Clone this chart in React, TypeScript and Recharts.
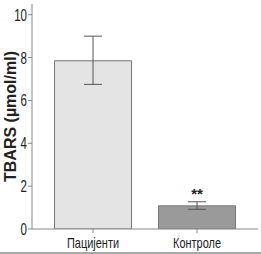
import React from "react";
import {
  BarChart,
  Bar,
  XAxis,
  YAxis,
  ErrorBar,
  LabelList,
  Cell,
} from "recharts";

document.body.style.margin = "0";

const groups = ["Пацијенти", "Контроле"];
const means = [7.85, 1.08];
const lowers = [6.75, 0.92];
const uppers = [9.0, 1.27];
const marks = ["", "**"];
const yTicks = [0, 2, 4, 6, 8, 10];
const fills = ["#e4e4e4", "#9a9a9a"];

const data = groups.map((g, i) => ({
  name: g,
  value: means[i],
  err: [means[i] - lowers[i], uppers[i] - means[i]],
  mark: marks[i],
}));

const sans = "'Liberation Sans', Arial, sans-serif";

// narrow-looking tick text: regular sans squeezed horizontally
const XTick = (props: any) => {
  const { x, y, payload } = props;
  return (
    <g transform={`translate(${x},${y}) scale(0.73,1)`}>
      <text x={0} y={0} dy={11.5} textAnchor="middle" fontFamily={sans} fontSize={15} fill="#222">
        {payload.value}
      </text>
    </g>
  );
};

const YTick = (props: any) => {
  const { x, y, payload } = props;
  return (
    <g transform={`translate(${x},${y}) scale(0.72,1)`}>
      <text x={0} y={0} dy={6} textAnchor="end" fontFamily={sans} fontSize={16} fill="#222">
        {payload.value}
      </text>
    </g>
  );
};

const YLabel = (props: any) => {
  const { viewBox } = props;
  const cy = viewBox.y + viewBox.height / 2;
  return (
    <text
      x={10}
      y={cy}
      transform={`rotate(-90, 10, ${cy})`}
      textAnchor="middle"
      dominantBaseline="central"
      fontFamily={sans}
      fontWeight="bold"
      fontSize={16}
      fill="#222"
    >
      TBARS (µmol/ml)
    </text>
  );
};

const App: React.FC = () => {
  return (
    <div style={{ width: 261, height: 252, borderBottom: "2px solid #a8a8a8" }}>
      <BarChart
        width={261}
        height={252}
        data={data}
        margin={{ top: 4, right: 3, bottom: 0, left: 0 }}
        barCategoryGap="13%"
      >
        <XAxis
          dataKey="name"
          padding={{ left: 9, right: 9 }}
          stroke="#888"
          tickSize={4}
          height={23}
          tick={<XTick />}
          tickMargin={3}
        />
        <XAxis
          xAxisId="top"
          dataKey="name"
          orientation="top"
          height={0}
          tick={false}
          tickLine={false}
          stroke="#b0b0b0"
          strokeWidth={1.5}
        />
        <YAxis
          domain={[0, 10.5]}
          ticks={yTicks}
          width={32}
          stroke="#888"
          tickSize={4}
          tickMargin={1}
          tick={<YTick />}
          allowDataOverflow
          label={<YLabel />}
        />
        <YAxis
          yAxisId="right"
          orientation="right"
          width={0}
          domain={[0, 10.5]}
          tick={false}
          tickLine={false}
          stroke="#b0b0b0"
          strokeWidth={1.5}
        />
        <Bar dataKey="value" stroke="#777" isAnimationActive={false}>
          {data.map((d, i) => (
            <Cell key={d.name} fill={fills[i]} />
          ))}
          <ErrorBar dataKey="err" width={9} stroke="#555" strokeWidth={1} />
          <LabelList
            dataKey="mark"
            position="top"
            offset={7}
            fontFamily={sans}
            fontWeight="bold"
            fontSize={15}
            fill="#222"
          />
        </Bar>
      </BarChart>
    </div>
  );
};

export default App;
